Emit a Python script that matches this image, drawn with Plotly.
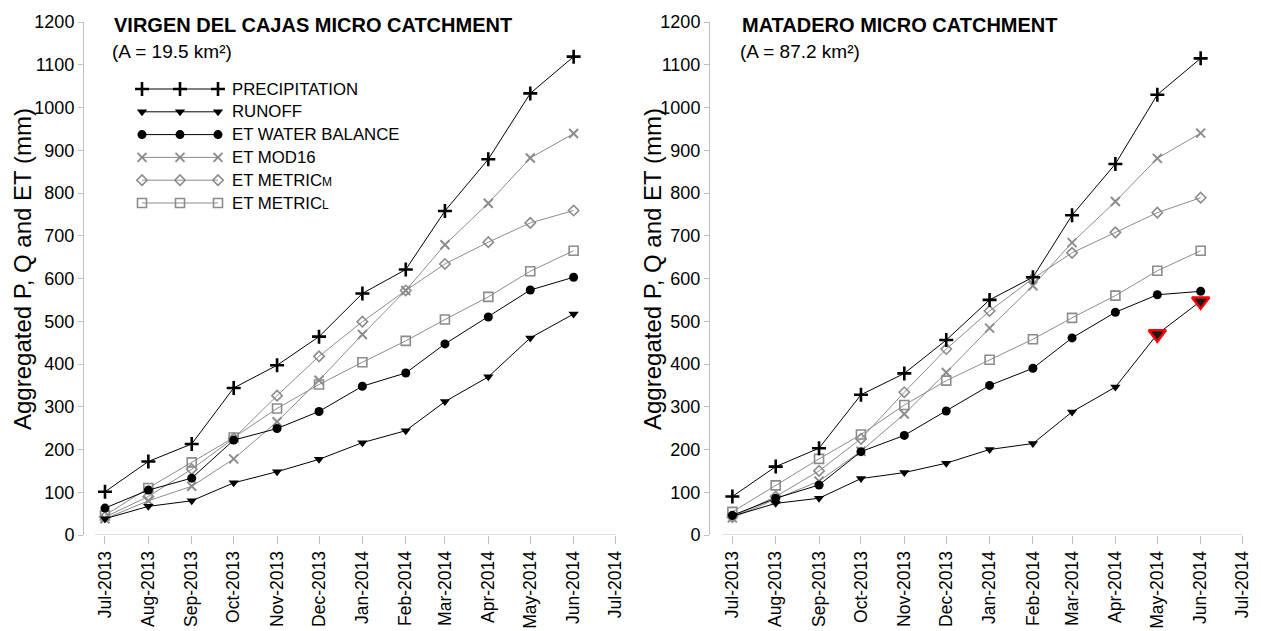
import plotly.graph_objects as go

# Monthly time steps (first of each month)
months = ["2013-07-01", "2013-08-01", "2013-09-01", "2013-10-01", "2013-11-01", "2013-12-01",
          "2014-01-01", "2014-02-01", "2014-03-01", "2014-04-01", "2014-05-01", "2014-06-01"]

# Virgen del Cajas micro catchment (aggregated, mm)
cajas_p = [101, 172, 213, 344, 397, 464, 565, 621, 758, 879, 1033, 1119]
cajas_q = [38, 67, 80, 122, 148, 177, 216, 244, 312, 370, 461, 517]
cajas_et_wb = [63, 105, 133, 222, 249, 289, 348, 379, 447, 510, 573, 603]
cajas_mod16 = [38, 80, 114, 178, 265, 362, 469, 572, 679, 776, 882, 939]
cajas_metric_m = [42, 90, 154, 226, 326, 418, 499, 572, 634, 685, 730, 759]
cajas_metric_l = [46, 110, 170, 228, 296, 352, 404, 454, 504, 557, 617, 665]

# Matadero micro catchment (aggregated, mm)
mat_p = [90, 160, 203, 328, 378, 456, 550, 603, 748, 868, 1030, 1115]
mat_q = [44, 74, 86, 132, 146, 168, 200, 214, 288, 346, 470, 547]
mat_et_wb = [46, 86, 117, 195, 233, 290, 350, 390, 461, 521, 562, 570]
mat_mod16 = [40, 84, 126, 196, 283, 380, 484, 583, 684, 780, 881, 940]
mat_metric_m = [42, 90, 150, 225, 334, 435, 524, 600, 660, 708, 754, 789]
mat_metric_l = [54, 116, 178, 235, 304, 361, 410, 458, 508, 560, 618, 665]

# Runoff months flagged in the Matadero panel
flagged_idx = [10, 11]

series_names = ["PRECIPITATION", "RUNOFF", "ET WATER BALANCE", "ET MOD16", "ET METRIC", "ET METRIC"]
series_suffix = ["", "", "", "", "M", "L"]   # small trailing letter of the METRIC labels
y_ticks = [0, 100, 200, 300, 400, 500, 600, 700, 800, 900, 1000, 1100, 1200]
y_title = "Aggregated P, Q and ET (mm)"

FONT = "Arial, Liberation Sans, sans-serif"
BLACK = "#000000"
GREY = "#8c8c8c"
AXIS = "#bfbfbf"

styles = [
    dict(line=dict(color=BLACK, width=1), marker=dict(symbol="cross-thin", size=10, color=BLACK,
                                                      line=dict(color=BLACK, width=2.6))),
    dict(line=dict(color=BLACK, width=1), marker=dict(symbol="triangle-down", size=9, color=BLACK)),
    dict(line=dict(color=BLACK, width=1), marker=dict(symbol="circle", size=9, color=BLACK)),
    dict(line=dict(color=GREY, width=1), marker=dict(symbol="x-thin-open", size=9, color=GREY,
                                                     line=dict(color=GREY, width=2))),
    dict(line=dict(color=GREY, width=1), marker=dict(symbol="diamond-open", size=8, color=GREY,
                                                     line=dict(color=GREY, width=1.6))),
    dict(line=dict(color=GREY, width=1), marker=dict(symbol="square-open", size=9, color=GREY,
                                                     line=dict(color=GREY, width=1.6))),
]

fig = go.Figure()

panels = [
    ("x", "y", [cajas_p, cajas_q, cajas_et_wb, cajas_mod16, cajas_metric_m, cajas_metric_l]),
    ("x2", "y2", [mat_p, mat_q, mat_et_wb, mat_mod16, mat_metric_m, mat_metric_l]),
]
# draw grey series first so black ones sit on top
order = [5, 4, 3, 2, 1, 0]
for xa, ya, data in panels:
    for i in order:
        fig.add_trace(go.Scatter(
            x=months, y=data[i], mode="lines+markers", name=series_names[i] + series_suffix[i],
            xaxis=xa, yaxis=ya, showlegend=False, cliponaxis=False, **styles[i]))

# highlighted runoff points (Matadero)
fig.add_trace(go.Scatter(
    x=[months[i] for i in flagged_idx], y=[mat_q[i] for i in flagged_idx],
    mode="markers", xaxis="x2", yaxis="y2", showlegend=False, cliponaxis=False,
    marker=dict(symbol="triangle-down", size=15, color="#1a1a1a",
                line=dict(color="#ff0000", width=2.5))))

# legend block: three markers joined by a line for each series
leg_x = [0, 1, 2]
for i in range(6):
    fig.add_trace(go.Scatter(
        x=leg_x, y=[i, i, i], mode="lines+markers", xaxis="x3", yaxis="y3",
        showlegend=False, cliponaxis=False, hoverinfo="skip", **styles[i]))

H = 631.0
W = 1261.0
y_dom = [(H - 535) / H, (H - 22) / H]

common_x = dict(
    type="date", tickmode="linear", tick0="2013-07-01", dtick="M1",
    tickformat="%b-%Y", tickangle=-90, ticks="outside", ticklen=8, tickcolor=AXIS,
    showline=False, showgrid=False, zeroline=False, automargin=False,
    tickfont=dict(family=FONT, size=17.5, color="#000"),
)
common_y = dict(
    range=[0, 1200], tickvals=y_ticks, ticks="outside", ticklen=5, tickcolor=AXIS,
    showline=True, linecolor=AXIS, linewidth=1, showgrid=False, zeroline=False, automargin=False,
    tickfont=dict(family=FONT, size=18, color="#000"),
)

fig.update_layout(
    width=1261, height=631,
    margin=dict(l=0, r=0, t=0, b=0, autoexpand=False),
    paper_bgcolor="white", plot_bgcolor="rgba(0,0,0,0)",
    font=dict(family=FONT, color="#000"),
    xaxis=dict(domain=[84 / W, 617 / W], range=["2013-06-16", "2014-07-02"], anchor="y", **common_x),
    yaxis=dict(domain=y_dom, anchor="x", **common_y),
    xaxis2=dict(domain=[710 / W, 1244 / W], range=["2013-06-15", "2014-07-02"], anchor="y2", **common_x),
    yaxis2=dict(domain=y_dom, anchor="x2", **common_y),
    xaxis3=dict(domain=[142 / W, 218 / W], range=[0, 2], visible=False, anchor="y3"),
    yaxis3=dict(domain=[(H - 214.4) / H, (H - 77.6) / H], range=[5.5, -0.5], visible=False, anchor="x3"),
)

# x axis baselines, running from the first to the last month tick
for xr, yr in [("x", "y"), ("x2", "y2")]:
    fig.add_shape(type="line", xref=xr, yref=yr, x0="2013-06-24", x1="2014-07-01", y0=0, y1=0,
                  line=dict(color=AXIS, width=1), layer="below")

# legend labels
LEG_SIZE = 16.8
for i in range(6):
    fig.add_annotation(x=2, y=i, xref="x3", yref="y3", xshift=12, text=series_names[i],
                       showarrow=False, xanchor="left", yanchor="middle",
                       font=dict(family=FONT, size=LEG_SIZE, color="#000"))
    if series_suffix[i]:
        # "ET METRIC" is ~5.39 em wide in Arial metrics
        fig.add_annotation(x=2, y=i, xref="x3", yref="y3", xshift=12 + 5.39 * LEG_SIZE - 1,
                           yshift=-2, text=series_suffix[i], showarrow=False,
                           xanchor="left", yanchor="middle",
                           font=dict(family=FONT, size=12, color="#000"))

# vertical axis titles
for px in (22, 652):
    fig.add_annotation(x=px / W, y=(H - 269) / H, xref="paper", yref="paper", text=y_title,
                       textangle=-90, showarrow=False, xanchor="center", yanchor="middle",
                       font=dict(family=FONT, size=24, color="#000"))

# panel titles
titles = [
    (112, "VIRGEN DEL CAJAS MICRO CATCHMENT", "(A = 19.5 km²)"),
    (740, "MATADERO MICRO CATCHMENT", "(A = 87.2 km²)"),
]
for px, t1, t2 in titles:
    fig.add_annotation(x=px / W, y=(H - 25.5) / H, xref="paper", yref="paper", text="<b>" + t1 + "</b>",
                       showarrow=False, xanchor="left", yanchor="middle",
                       font=dict(family=FONT, size=20, color="#000"))
    fig.add_annotation(x=px / W - 2 / W, y=(H - 51) / H, xref="paper", yref="paper", text=t2,
                       showarrow=False, xanchor="left", yanchor="middle",
                       font=dict(family=FONT, size=19, color="#000"))

fig.write_html("out.html")
